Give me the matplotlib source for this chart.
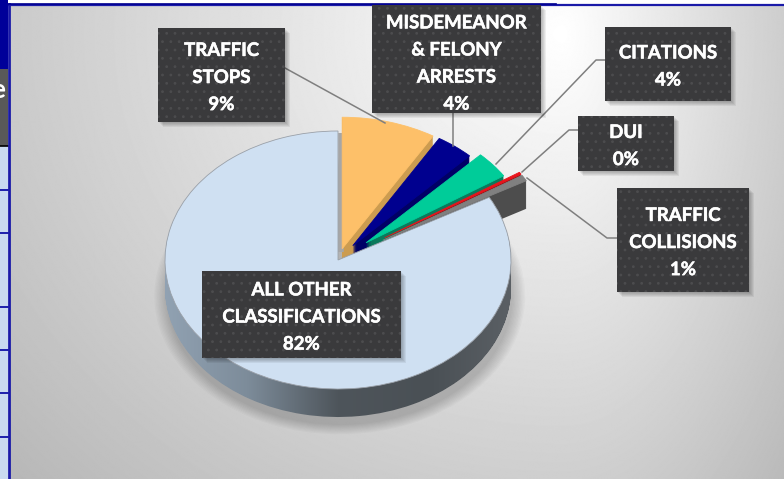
import numpy as np
import matplotlib
matplotlib.use('Agg')
import matplotlib.pyplot as plt
import matplotlib.patheffects as pe
from matplotlib.patches import Rectangle, Ellipse
from matplotlib.path import Path
from matplotlib.colors import LinearSegmentedColormap

plt.rcParams['font.family'] = ['Lato', 'DejaVu Sans']
plt.rcParams['hatch.linewidth'] = 0.8

# pie data, clockwise from 12 o'clock
categories = ['TRAFFIC\nSTOPS', 'MISDEMEANOR\n& FELONY\nARRESTS', 'CITATIONS', 'DUI',
              'TRAFFIC\nCOLLISIONS', 'ALL OTHER\nCLASSIFICATIONS']
percents = ['9%', '4%', '4%', '0%', '1%', '82%']
values = [8.5, 3.6, 3.5, 0.3, 0.8, 82]
explode = [0.09, 0.14, 0.21, 0.32, 0.30, 0]
radii = [1.02, 0.97, 0.95, 0.93, 0.95, 1]
top_colors = ['#fdc069', '#00008f', '#00cc99', '#e8141c', '#808080', '#cfe0f2']
side_colors = ['#cc9c50', '#000066', '#0a7a5c', '#8a1015', '#4d4d4d', '#5c6770']

# label boxes: x0, y0, x1, y1 in picture pixels
boxes = [(158, 28, 285, 122), (372, 5, 541, 113), (605, 27, 731, 101),
         (578, 116, 674, 171), (617, 188, 749, 292), (202, 271, 401, 358)]
text_dy = [2, 4, 2, 2, 2, 2]
leaders = [[(285, 68), (385, 123)],
           [(453, 113), (453, 146)],
           [(605, 60), (596, 60), (496, 164)],
           [(578, 130), (569, 130), (522, 172)],
           [(617, 238), (607, 238), (527, 178)]]
table_lines = [190, 233, 307, 350, 393, 437]

W, H = 784, 479
cx, cy, rx, ry = 338, 260, 173, 129
depth = 28

fig = plt.figure(figsize=(W / 100, H / 100), dpi=100)

# background, table scrap on the left, frame
bg = fig.add_axes([0, 0, 1, 1])
yy, xx = np.mgrid[0:H, 0:W]
u = np.where(xx < 560, (560 - xx) / 540, (xx - 560) / 230)
v = (yy - 30) / 470
grey = np.clip(1.0 - 0.2 * np.hypot(u, v), 0, 1)
bg.imshow(grey, cmap='gray', vmin=0, vmax=1, extent=(9, W, H, 4), aspect='auto', zorder=1)
bg.add_patch(Rectangle((0, 0), 8, 69, fc='#000099', ec='none', zorder=2))
bg.add_patch(Rectangle((0, 69), 8, 77, fc='#595959', ec='none', zorder=2))
bg.add_patch(Rectangle((0, 146), 8, H - 146, fc='#c9daf0', ec='none', zorder=2))
bg.plot([0, 8], [146, 146], color='black', lw=1.2, zorder=3)
for y in table_lines:
    bg.plot([0, 8], [y, y], color='#0000a0', lw=1.2, zorder=3)
bg.plot([9.5, 9.5], [4, H], color='#1a1aa8', lw=2, zorder=4)
bg.plot([9, W], [4.5, 4.5], color='#1a1aa8', lw=1.6, zorder=4)
bg.plot([9, 556], [3.8, 3.8], color='#000090', lw=1.2, zorder=4)
bg.text(5, 90, 'e', color='white', fontsize=19, fontweight='bold', ha='right', va='center', zorder=5)
bg.set_xlim(0, W)
bg.set_ylim(H, 0)
bg.axis('off')

# pie axes: one data unit is the ellipse radius, so the pie comes out tilted
ax = fig.add_axes([0, 0, 1, 1])
ax.patch.set_alpha(0)

for k in range(10):
    grow = 1.0 + 0.008 * k
    ax.add_patch(Ellipse((0.01, -(depth + 8) / ry), 2 * grow, 2 * grow, fc='black', ec='none',
                         alpha=0.02, zorder=0))

# side of the pie, stacked from the bottom up
side_paths = []
z = 2
for d in range(depth, 0, -1):
    wedges, _ = ax.pie(values, colors=side_colors, explode=explode, startangle=90, counterclock=False,
                       center=(0, -d / ry), radius=1)
    for w, r in zip(wedges, radii):
        w.set_radius(r)
        w.set_zorder(z)
    wedges[5].set_visible(False)
    side_paths.append(wedges[5].get_patch_transform().transform_path(wedges[5].get_path()))
    z += 1

side_cmap = LinearSegmentedColormap.from_list('side', ['#93a4b5', '#7d8c9a', '#4e555b', '#4a5055', '#5c6166'])
im = ax.imshow(np.linspace(0, 1, 256).reshape(1, -1), cmap=side_cmap, aspect='auto',
               extent=(-1.05, 1.05, -1.4, 1), zorder=1)
im.set_clip_path(Path.make_compound_path(*side_paths), ax.transData)

wedges, _ = ax.pie(values, colors=top_colors, explode=explode, startangle=90, counterclock=False,
                   wedgeprops={'linewidth': 0.6, 'edgecolor': '#9aa0a8'})
for w, c, r in zip(wedges, top_colors, radii):
    w.set_radius(r)
    w.set_zorder(z + 1)
    if c != '#cfe0f2':
        w.set_edgecolor(c)

# cut face of the big slice next to the traffic stops slice
ax.plot([0.015, 0.015], [0.06, 0.985], color='#a6a6a6', lw=4, solid_capstyle='butt', zorder=z + 0.5)

ax.set_aspect('auto')
ax.set_xlim(-cx / rx, (W - cx) / rx)
ax.set_ylim((cy - H) / ry, cy / ry)
ax.axis('off')

# leader lines and labels on top
lab = fig.add_axes([0, 0, 1, 1])
lab.patch.set_alpha(0)
lab.set_xlim(0, W)
lab.set_ylim(H, 0)
lab.axis('off')
for pts in leaders:
    lab.plot([p[0] for p in pts], [p[1] for p in pts], color='#7f7f7f', lw=1.1, zorder=1)
for (x0, y0, x1, y1), name, pct, dy in zip(boxes, categories, percents, text_dy):
    for k in range(5):
        lab.add_patch(Rectangle((x0 + 1 + k, y0 + 1 + k), x1 - x0, y1 - y0, fc='black', ec='none',
                                alpha=0.06, zorder=2))
    lab.add_patch(Rectangle((x0, y0), x1 - x0, y1 - y0, fc='#3a3a3c', ec='#4c4c4e', lw=0,
                            hatch='..', zorder=3))
    lab.text((x0 + x1) / 2, (y0 + y1) / 2 + 0.5 + dy, name + '\n' + pct, color='white', fontsize=13.4,
             fontweight='bold', ha='center', va='center', linespacing=1.72, zorder=4,
             path_effects=[pe.withStroke(linewidth=0.4, foreground='white')])

fig.savefig('out.png', dpi=100)
